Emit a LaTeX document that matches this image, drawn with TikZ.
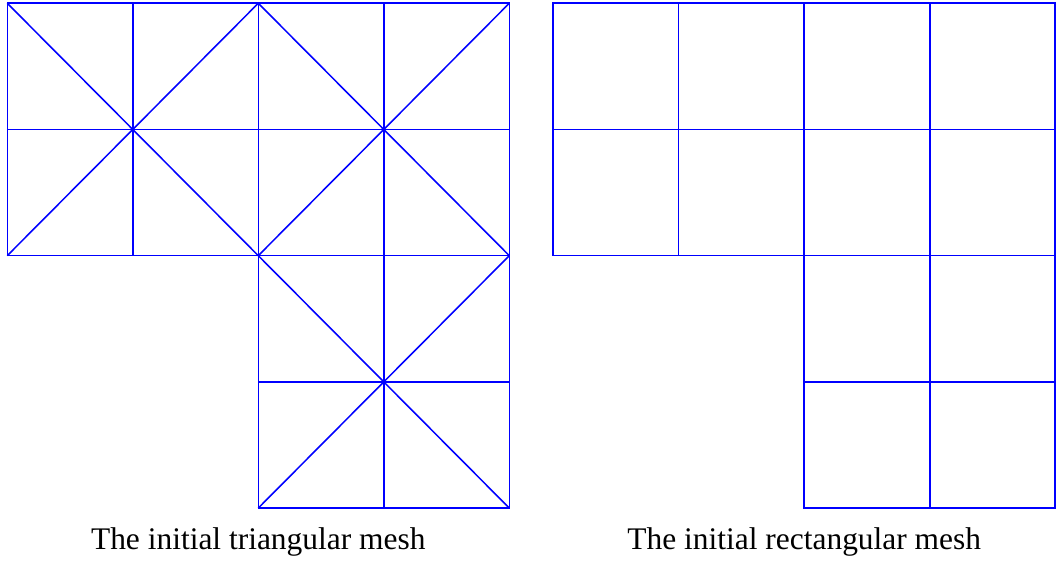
\documentclass[tikz,border=0pt]{standalone}
\usepackage{fontspec}
\setmainfont{Liberation Serif}
\usetikzlibrary{calc}

\tikzset{
  meshline/.style={blue, line width=0.35pt},
  caption/.style={anchor=base, font=\fontsize{7.13}{8.5}\selectfont}
}

\begin{document}
\begin{tikzpicture}[y=1.0056cm]
  \useasboundingbox (-0.058,-0.433) rectangle (8.380,4.026);
  % triangular mesh: three 2x2 blocks, each split into eight triangles
  \foreach \bx/\by in {0/2, 2/2, 2/0} {
    \draw[meshline] (\bx,\by) rectangle ++(2,2);
    \draw[meshline] (\bx+1,\by) -- ++(0,2);
    \draw[meshline] (\bx,\by+1) -- ++(2,0);
    \draw[meshline] (\bx,\by) -- ++(2,2);
    \draw[meshline] (\bx,\by+2) -- ++(2,-2);
  }
  \node[caption] (tri) at (2,-0.33) {The initial triangular mesh};
  % rectangular mesh
  \begin{scope}[xshift=4.35cm]
    \foreach \bx/\by in {0/2, 2/2, 2/0} {
      \draw[meshline] (\bx,\by) rectangle ++(2,2);
      \draw[meshline] (\bx+1,\by) -- ++(0,2);
      \draw[meshline] (\bx,\by+1) -- ++(2,0);
    }
    \node[caption] (rect) at (2,-0.33) {The initial rectangular mesh};
  \end{scope}
\end{tikzpicture}
\end{document}
